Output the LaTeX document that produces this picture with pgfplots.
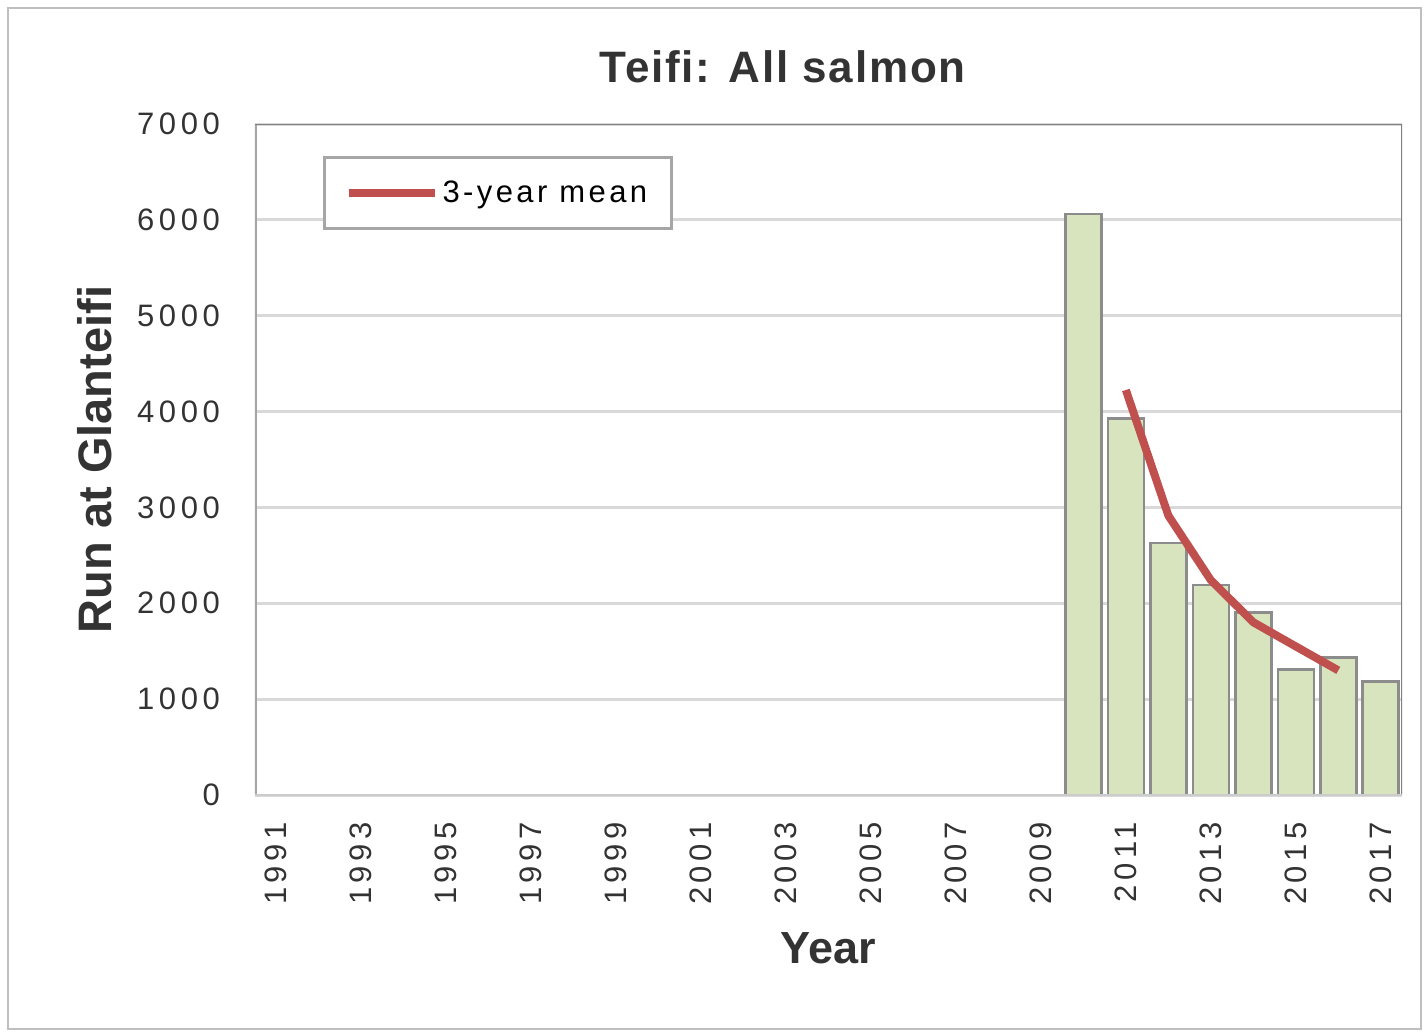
\documentclass[border=0pt]{standalone}
\usepackage{fontspec}
\setmainfont{Liberation Sans}
\newfontfamily\tickfont[LetterSpace=15]{Liberation Sans}
\newfontfamily\legfont[LetterSpace=11]{Liberation Sans}
\newfontfamily\titlefont[LetterSpace=4]{Liberation Sans}
\usepackage{pgfplots}
\pgfplotsset{compat=1.18}
\definecolor{barfill}{HTML}{D7E4BD}
\definecolor{baredge}{HTML}{8C8C8C}
\definecolor{meanred}{HTML}{C0504D}
\definecolor{gridc}{HTML}{D9D9D9}
\definecolor{txt}{HTML}{333333}
\begin{document}
\begin{tikzpicture}
\useasboundingbox (-127.5pt,-119pt) rectangle (586.5pt,397.5pt);
\draw[line width=1pt, draw=black!25] (-123.5pt,-117pt) rectangle (583pt,393.5pt);
\begin{axis}[
  at={(0pt,0pt)}, anchor=south west,
  scale only axis, width=573.5pt, height=335.5pt,
  xmin=1990.5, xmax=2017.5, ymin=0, ymax=7000,
  xtick={1991,1993,...,2017}, ytick={0,1000,...,7000},
  major tick length=0pt,
  /pgf/number format/assume math mode=true,
  /pgf/number format/1000 sep={},
  ticklabel style={font=\tickfont\fontsize{15.5}{18}\selectfont, text=txt},
  yticklabel style={xshift=-14pt},
  xticklabel style={yshift=-10pt, rotate=90, anchor=east},
  axis line style={draw=none},
  ymajorgrids, major grid style={draw=gridc, line width=1.5pt},
  title={\titlefont\bfseries Teifi: All salmon},
  title style={at={(axis description cs:0.46,1.067)}, anchor=center, font=\fontsize{22}{26}\selectfont, text=txt},
  xlabel={\bfseries Year},
  xlabel style={at={(axis description cs:0.5,-0.228)}, anchor=center, font=\fontsize{22.5}{26}\selectfont, text=txt},
  ylabel={\bfseries Run at Glanteifi},
  ylabel style={at={(axis description cs:-0.1395,0.5)}, anchor=center, rotate=0, font=\fontsize{23.5}{26}\selectfont, text=txt},
  legend style={at={(axis description cs:0.0593,0.952)}, anchor=north west,
    draw=black!35, line width=1.5pt, inner xsep=10pt, inner ysep=9.5pt,
    font=\legfont\fontsize{15.5}{18}\selectfont},
  legend image code/.code={\draw[#1] (0pt,0pt) -- (43pt,0pt);},
]
\addplot[ybar, bar width=18pt, fill=barfill, draw=baredge, line width=1.3pt, forget plot]
  coordinates {(2010,6062) (2011,3926) (2012,2628) (2013,2190) (2014,1905) (2015,1310) (2016,1434) (2017,1186)};
\addplot[meanred, line width=4pt, line join=round]
  coordinates {(2011,4225) (2012,2915) (2013,2241) (2014,1802) (2015,1550) (2016,1300)};
\addlegendentry{3-year mean}
\draw[black!35, line width=2.5pt] (rel axis cs:0,0) -- (rel axis cs:0,1);
\draw[black!50, line width=1.2pt] (rel axis cs:0,1) -- (rel axis cs:1,1) -- (rel axis cs:1,0);
\draw[black!20, line width=1.5pt] (rel axis cs:0,0) -- (rel axis cs:1,0);
\end{axis}
\end{tikzpicture}
\end{document}
